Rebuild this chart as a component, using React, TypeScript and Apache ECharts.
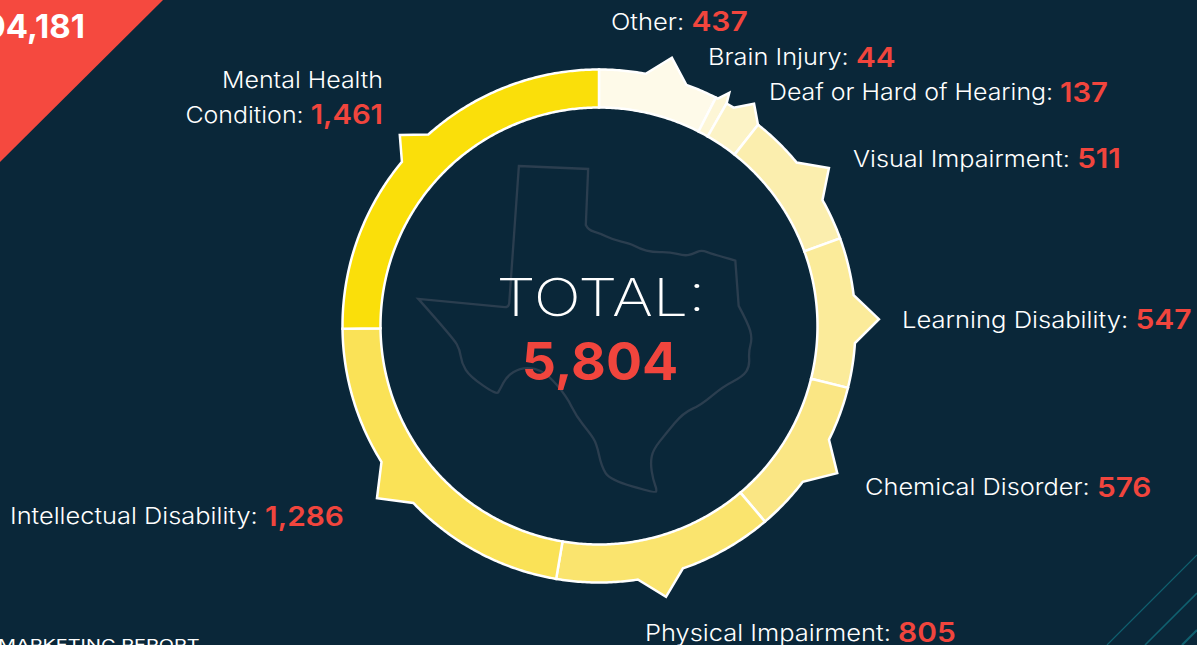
import React, { useEffect, useRef } from "react";
import * as echarts from "echarts";

const categories = ["Other", "Brain Injury", "Deaf or Hard of Hearing", "Visual Impairment", "Learning Disability", "Chemical Disorder", "Physical Impairment", "Intellectual Disability", "Mental Health Condition"];
const values = [437, 44, 137, 511, 547, 576, 805, 1286, 1461];
const totalLabel = "5,804";
const sideNumber = "04,181";
const footerText = "MARKETING REPORT";
const colors = ["#FEFAE9", "#FDF6D6", "#FCF3C6", "#FBEEAE", "#FBEB9A", "#FAE684", "#FAE46E", "#FAE257", "#FADF0A"];

// decoration of each slice: angle (deg clockwise from top) of the spike's base and tip, and the tip's radius
const spikeStart = [10.5, 27.6, 31.65, 50.4, 83.1, 116.3, 160.9, 226.4, 309.8];
const spikeTip = [15.2, 29.2, 34.9, 55.5, 88.6, 121.7, 166.1, 232.2, 313.8];
const spikeEnd = [19.9, 30.0, 38.3, 60.6, 93.8, 127.4, 171.3, 238, 318.3];
const spikeReach = [278, 267, 271, 279, 280, 280, 279, 281, 276];

// label anchors
const labelX = [611, 708, 769, 853, 902, 865, 645, 10, 383];
const labelY = [21, 57, 92, 158.5, 319, 487, 632, 516, 97];
const labelAlign = ["left", "left", "left", "left", "left", "left", "left", "left", "right"];
const labelStretch = [1.11, 1.103, 1.083, 1.098, 1.112, 1.103, 1.107, 1.105, 1.085];

const CX = 599, CY = 326, R0 = 218.5, R1 = 256.5;
const TEXT_FONT = "Inter";
const pt = (deg: number, r: number) => {
  const a = (deg * Math.PI) / 180;
  return [CX + r * Math.sin(a), CY - r * Math.cos(a)];
};

// Texas outline, in 3x units
const texasSmooth = [
  [558, 225], [565, 240], [600, 250], [640, 270], [690, 280], [720, 297], [760, 307], [810, 306], [855, 318], [880, 312], [905, 300], [940, 313], [1007, 332],
];
const texasSmooth2 = [
  [1017, 468], [1045, 520], [1058, 565], [1047, 605], [1050, 650], [1030, 680], [970, 710], [905, 765], [850, 790], [800, 850], [760, 900], [752, 940], [760, 990], [772, 1022], [765, 1030],
  [630, 990], [605, 950], [590, 880], [570, 850], [530, 800], [500, 740], [445, 675], [405, 655], [360, 655], [320, 680], [300, 720], [290, 735], [210, 680], [185, 640], [180, 600], [160, 565], [55, 447],
];
function smoothPath(pts: number[][]) {
  let d = "";
  for (let i = 1; i < pts.length - 1; i++) {
    const mx = (pts[i][0] + pts[i + 1][0]) / 2;
    const my = (pts[i][1] + pts[i + 1][1]) / 2;
    d += ` Q${pts[i][0]} ${pts[i][1]} ${i === pts.length - 2 ? pts[i + 1][0] : mx} ${i === pts.length - 2 ? pts[i + 1][1] : my}`;
  }
  return d;
}
const texasD =
  "M357 48 L565 57 L558 225" +
  smoothPath(texasSmooth) +
  " L1017 468" +
  smoothPath(texasSmooth2) +
  " L315 472 Q327 472 328 460 Z";
echarts.graphic.registerShape("texas", echarts.graphic.extendPath(texasD, {}));

const cumulative: number[] = [];
values.reduce((s, v, i) => ((cumulative[i] = s), s + v), 0);
const total = values.reduce((s, v) => s + v, 0);

function renderSlice(params: any, api: any) {
  const i = params.dataIndex;
  const v = api.value(0);
  const a0 = (cumulative[i] / total) * 360;
  const a1 = a0 + (v / total) * 360;
  const points: number[][] = [];
  const base0 = spikeStart[i], base1 = Math.min(spikeEnd[i], a1);
  const arc = (from: number, to: number, r: number) => {
    const n = Math.max(1, Math.ceil(Math.abs(to - from) * 2));
    for (let k = 0; k <= n; k++) points.push(pt(from + ((to - from) * k) / n, r));
  };
  arc(a0, base0, R1);
  points.push(pt(spikeTip[i], spikeReach[i]));
  arc(base1, a1, R1);
  arc(a1, a0, R0);
  const name = categories[i];
  const valueText = v.toLocaleString("en-US");
  const text = i === 8
    ? `{t|Mental Health}\n{t|Condition: }{v|${valueText}}`
    : `{t|${name}: }{v|${valueText}}`;
  return {
    type: "group",
    children: [
      {
        type: "polygon",
        shape: { points },
        style: { fill: colors[i], stroke: "#FFFFFF", lineWidth: 2.5, lineJoin: "miter" },
      },
      {
        type: "text",
        x: labelX[i],
        y: labelY[i],
        scaleX: labelStretch[i],
        style: {
          text,
          align: labelAlign[i],
          verticalAlign: "middle",
          rich: {
            t: { fontFamily: TEXT_FONT, fontWeight: 300, fontSize: 23, fill: "#FFFFFF", color: "#FFFFFF", lineHeight: i === 8 ? 35 : 26 },
            v: { fontFamily: TEXT_FONT, fontWeight: 600, fontSize: 27, fill: "#F1453D", color: "#F1453D", lineHeight: i === 8 ? 35 : 26 },
          },
        },
      },
    ],
  };
}

export default function App() {
  const ref = useRef<HTMLDivElement>(null);
  useEffect(() => {
    const chart = echarts.init(ref.current!, undefined, { renderer: "svg" });
    chart.setOption({
      animation: false,
      backgroundColor: "#0A2739",
      graphic: [
        { type: "polygon", z: 0, shape: { points: [[0, 0], [163, 0], [0, 162]] }, style: { fill: "#F5493F" } },
        { type: "text", z: 1, x: 85, y: 26, style: { text: sideNumber, fontFamily: TEXT_FONT, fontWeight: 700, fontSize: 33, fill: "#FFFFFF", align: "right", verticalAlign: "middle" } },
        { type: "text", z: 1, x: -2, y: 645, scaleX: 1.42, style: { text: footerText, fontFamily: TEXT_FONT, fontWeight: 400, fontSize: 14, fill: "#FFFFFF", align: "left", verticalAlign: "middle" } },
        { type: "line", z: 0, shape: { x1: 1107, y1: 645, x2: 1197, y2: 555 }, style: { stroke: "#10606F", lineWidth: 1.2 } },
        { type: "line", z: 0, shape: { x1: 1145, y1: 645, x2: 1197, y2: 593 }, style: { stroke: "#10606F", lineWidth: 1.6 } },
        { type: "line", z: 0, shape: { x1: 1182, y1: 645, x2: 1197, y2: 630 }, style: { stroke: "#10606F", lineWidth: 2.2 } },
        { type: "texas", z: 1, x: 400, y: 150, scaleX: 1 / 3, scaleY: 1 / 3, style: { fill: "none", stroke: "#2B3E4F", lineWidth: 7 } },
        { type: "text", z: 5, x: 601, y: 297, scaleX: 1.2, style: { text: "TOTAL:", fontFamily: TEXT_FONT, fontWeight: 200, fontSize: 52, fill: "#FFFFFF", align: "center", verticalAlign: "middle" } },
        { type: "text", z: 5, x: 600, y: 361, scaleX: 1.03, style: { text: totalLabel, fontFamily: TEXT_FONT, fontWeight: 700, fontSize: 52, fill: "#F1453D", align: "center", verticalAlign: "middle" } },
      ],
      series: [
        {
          type: "custom",
          coordinateSystem: "none",
          renderItem: renderSlice,
          data: values.map((v, i) => ({ name: categories[i], value: [v] })),
          silent: true,
          clip: false,
        },
      ],
    });
    return () => chart.dispose();
  }, []);
  return <div ref={ref} style={{ position: "fixed", left: 0, top: 0, width: 1197, height: 645 }} />;
}
